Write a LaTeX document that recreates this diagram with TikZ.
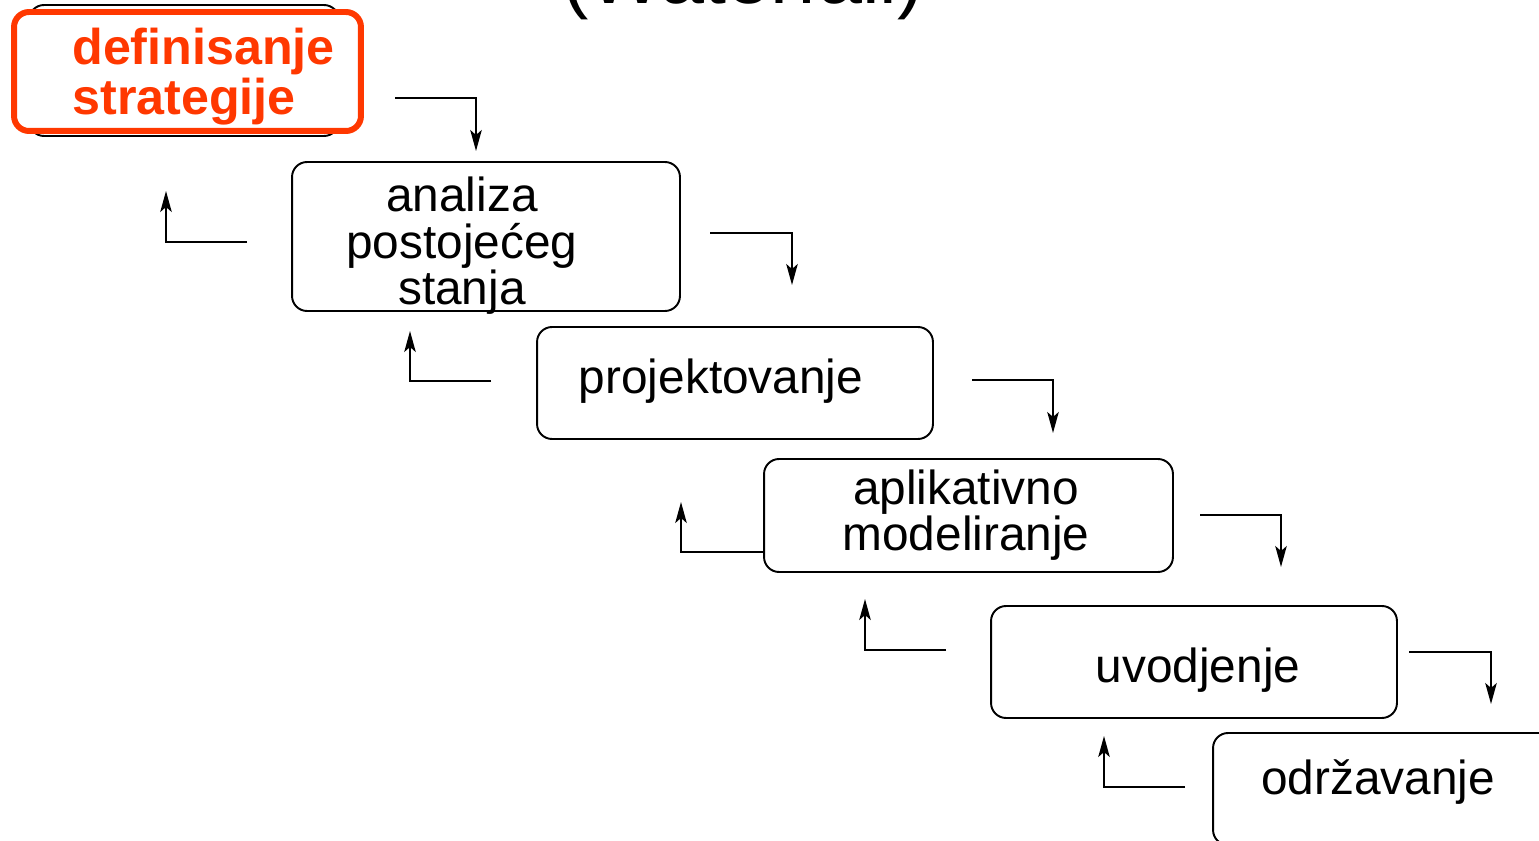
\documentclass[tikz,border=0pt]{standalone}
\usepackage{fontspec}
\setmainfont{Liberation Sans}
\usetikzlibrary{arrows.meta}

\definecolor{stratred}{RGB}{255,56,0}

\begin{document}
\begin{tikzpicture}[x=0.02cm, y=-0.02cm,
    % boxes of the waterfall steps
    stepbox/.style={draw, line width=1.1pt, rounded corners=0.3cm},
    steptext/.style={font=\fontsize{27.2}{26.5}\selectfont, align=center, inner sep=0pt},
    % the bent arrows between the steps
    flow/.style={line width=1.1pt, -{Stealth[length=0.42cm, width=0.23cm, inset=0.1cm]}}
]
\useasboundingbox (0,0) rectangle (1539,841);

% Title, cut off at the top
\node[font=\fontsize{45}{45}\selectfont, anchor=base] (title) at (743,4) {(Waterfall)};

% First step, highlighted
\node[stepbox, minimum width=6.2cm, minimum height=2.62cm] (strat0) at (184,70.5) {};
\node[draw=stratred, fill=white, line width=3.4pt, rounded corners=0.3cm,
      minimum width=6.94cm, minimum height=2.38cm] (strat) at (187.5,71.5) {};
\node[text=stratred, font=\fontsize{28.6}{28.5}\selectfont\bfseries, align=left,
      anchor=west, inner sep=0pt] (strattext) at (72,77) {definisanje\\strategije};

% The other steps
\node[stepbox, minimum width=7.76cm, minimum height=2.98cm] (analiza) at (486,236.5) {};
\node[steptext] (analizatext) at (462,246) {analiza\\postojećeg\\stanja};

\node[stepbox, minimum width=7.92cm, minimum height=2.24cm] (proj) at (735,383) {};
\node[steptext] (projtext) at (721,381) {projektovanje};

\node[stepbox, minimum width=8.18cm, minimum height=2.26cm] (aplik) at (968.5,515.5) {};
\node[steptext] (apliktext) at (966,515) {aplikativno\\modeliranje};

\node[stepbox, minimum width=8.12cm, minimum height=2.24cm] (uvod) at (1194,662) {};
\node[steptext] (uvodtext) at (1198,670) {uvodjenje};

\node[stepbox, minimum width=8.1cm, minimum height=2.24cm] (odrz) at (1415.5,789) {};
\node[steptext] (odrztext) at (1378,782) {održavanje};

% Ends of the arrows
\coordinate (d1s) at (395,98);   \coordinate (d1e) at (476,151);
\coordinate (d2s) at (710,233);  \coordinate (d2e) at (792,285);
\coordinate (d3s) at (972,380);  \coordinate (d3e) at (1053,433);
\coordinate (d4s) at (1200,515); \coordinate (d4e) at (1281,567);
\coordinate (d5s) at (1409,652); \coordinate (d5e) at (1491,704);

\coordinate (u1s) at (247,242);  \coordinate (u1e) at (166,191);
\coordinate (u2s) at (491,381);  \coordinate (u2e) at (410,331);
\coordinate (u3e) at (681,502);
\coordinate (u4s) at (946,650);  \coordinate (u4e) at (865,599);
\coordinate (u5s) at (1185,787); \coordinate (u5e) at (1104,736);

% Going down
\draw[flow] (d1s) -| (d1e);
\draw[flow] (d2s) -| (d2e);
\draw[flow] (d3s) -| (d3e);
\draw[flow] (d4s) -| (d4e);
\draw[flow] (d5s) -| (d5e);

% Going back up
\draw[flow] (u1s) -| (u1e);
\draw[flow] (u2s) -| (u2e);
\draw[flow] (aplik.west |- 0,552) -| (u3e);
\draw[flow] (u4s) -| (u4e);
\draw[flow] (u5s) -| (u5e);

\end{tikzpicture}
\end{document}
